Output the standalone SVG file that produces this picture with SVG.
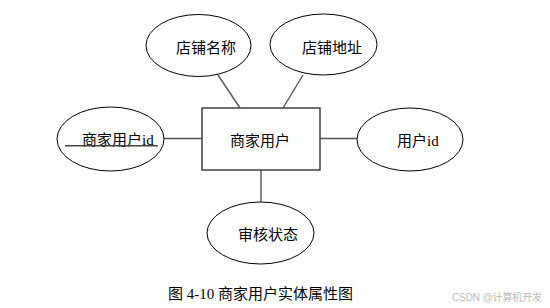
<svg xmlns="http://www.w3.org/2000/svg" width="550" height="308" viewBox="0 0 550 308">
<style>
.attr{fill:#fff;stroke:#000;stroke-width:1}
.ent{fill:#fff;stroke:#333;stroke-width:1.4}
.conn line{stroke:#555;stroke-width:1.4}
text{font-family:"Times New Roman","Liberation Serif","Noto Sans CJK SC",serif;font-size:15px;fill:#000}
</style>
<rect width="550" height="308" fill="#fff"/>
<g class="conn" id="connectors">
<line x1="218" y1="75" x2="240" y2="108"/>
<line x1="303" y1="75" x2="283" y2="108"/>
<line x1="164" y1="138.5" x2="202" y2="138.5"/>
<line x1="320" y1="138.5" x2="357" y2="138.5"/>
<line x1="261" y1="170" x2="261" y2="202"/>
</g>
<g id="entity">
<rect class="ent" x="202" y="108" width="118" height="62"/>
<text x="230" y="145.5">商家用户</text>
</g>
<g id="attr-name">
<ellipse class="attr" cx="198.5" cy="45.5" rx="52.5" ry="31"/>
<text x="176" y="52.5">店铺名称</text>
</g>
<g id="attr-addr">
<ellipse class="attr" cx="323.5" cy="44.5" rx="53.5" ry="30.5"/>
<text x="302" y="52.5">店铺地址</text>
</g>
<g id="attr-id">
<ellipse class="attr" cx="110.5" cy="139" rx="53.5" ry="32"/>
<text x="82" y="145">商家用户id</text>
<line x1="65" y1="145.7" x2="158" y2="145.7" stroke="#444" stroke-width="1.4"/>
</g>
<g id="attr-uid">
<ellipse class="attr" cx="410" cy="139.5" rx="53" ry="31.5"/>
<text x="397" y="145.5">用户id</text>
</g>
<g id="attr-status">
<ellipse class="attr" cx="260.5" cy="233" rx="53.5" ry="31"/>
<text x="238" y="239.5">审核状态</text>
</g>
<text x="168" y="299">图 4-10 商家用户实体属性图</text>
<text x="452" y="301" style="font-family:'Liberation Sans','Noto Sans CJK SC',sans-serif;font-size:10px;fill:#bbb" textLength="90">CSDN @计算机开发</text>
</svg>
